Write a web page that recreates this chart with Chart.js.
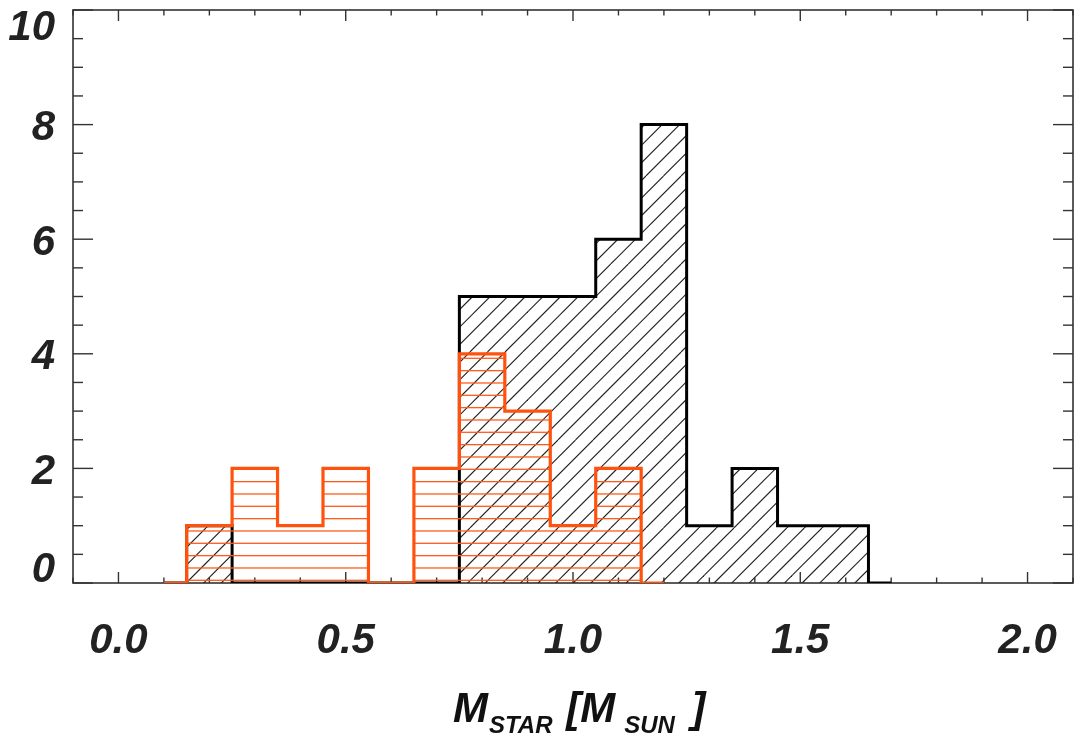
<!DOCTYPE html>
<html><head><meta charset="utf-8">
<script src="https://cdn.jsdelivr.net/npm/chart.js@4.4.1/dist/chart.umd.min.js"></script>
<style>html,body{margin:0;padding:0;background:#fff}#wrap{width:1078px;height:743px;position:relative}</style>
</head><body><div id="wrap"><canvas id="c"></canvas></div>
<script>
// ---- data ----
const blackMass   = [0.1,0.2,0.3,0.4,0.5,0.6,0.7,0.8,0.9,1.0,1.1,1.2,1.3,1.4,1.5,1.6,1.7];
const blackCounts = [0,  1,  0,  0,  0,  0,  0,  5,  5,  5,  6,  8,  1,  2,  1,  1,  0];
const orangeMass   = [0.1,0.2,0.3,0.4,0.5,0.6,0.7,0.8,0.9,1.0,1.1,1.2];
const orangeCounts = [0,  1,  2,  1,  2,  0,  2,  4,  3,  1,  2,  0];
const xTickValues = [0.0,0.5,1.0,1.5,2.0];
const xMinorValues = [-0.1,0.1,0.2,0.3,0.4,0.6,0.7,0.8,0.9,1.1,1.2,1.3,1.4,1.6,1.7,1.8,1.9,2.1];
const yTickValues = [0,2,4,6,8,10];
const yMinorValues = [0.5,1,1.5,2.5,3,3.5,4.5,5,5.5,6.5,7,7.5,8.5,9,9.5];
const xTitleMain = ['M', ' [M', ' ]'];
const xTitleSub = ['STAR', 'SUN'];

const FAM = "'Liberation Sans', Arial, Helvetica, sans-serif";
const canvas = document.getElementById('c');
const mainCtx = canvas.getContext('2d');

function diagPattern(){
  const s = 88, c = document.createElement('canvas'); c.width = s; c.height = s;
  const g = c.getContext('2d'); g.strokeStyle = '#222'; g.lineWidth = 1.1;
  for (let o = 12.3 - 17.6*10; o <= s; o += 17.6) {
    g.beginPath(); g.moveTo(o, s); g.lineTo(o + s, 0); g.stroke();
  }
  return mainCtx.createPattern(c, 'repeat');
}
function horizPattern(){
  const w = 8, h = 37, c = document.createElement('canvas'); c.width = w; c.height = h;
  const g = c.getContext('2d'); g.strokeStyle = '#ff5a1a'; g.lineWidth = 1.3;
  [0.65, 12.98, 25.3].forEach(y => { g.beginPath(); g.moveTo(0, y); g.lineTo(w, y); g.stroke(); });
  return mainCtx.createPattern(c, 'repeat');
}

const frameTicks = {
  id: 'frameTicks',
  beforeDatasetsDraw(chart){
    const {ctx, chartArea: a, scales: {x, y}} = chart;
    ctx.save();
    ctx.strokeStyle = '#333'; ctx.lineWidth = 1.6;
    ctx.strokeRect(a.left, a.top, a.right - a.left, a.bottom - a.top);
    ctx.lineWidth = 1.4;
    const seg = (x1,y1,x2,y2) => { ctx.beginPath(); ctx.moveTo(x1,y1); ctx.lineTo(x2,y2); ctx.stroke(); };
    xTickValues.forEach(v => { const p = x.getPixelForValue(v); seg(p, a.bottom, p, a.bottom - 11); seg(p, a.top, p, a.top + 11); });
    xMinorValues.forEach(v => { const p = x.getPixelForValue(v); seg(p, a.bottom, p, a.bottom - 5.5); seg(p, a.top, p, a.top + 5.5); });
    yTickValues.forEach(v => { const p = y.getPixelForValue(v); seg(a.left, p, a.left + 20, p); seg(a.right, p, a.right - 20, p); });
    yMinorValues.forEach(v => { const p = y.getPixelForValue(v); seg(a.left, p, a.left + 10, p); seg(a.right, p, a.right - 10, p); });
    ctx.restore();
  },
  afterDraw(chart){
    const {ctx} = chart;
    ctx.save();
    ctx.fillStyle = '#111'; ctx.textBaseline = 'alphabetic'; ctx.textAlign = 'left';
    const big = `italic bold 42px ${FAM}`, small = `italic bold 24px ${FAM}`;
    let xx = 453; const base = 722, subBase = 733;
    ctx.font = big; ctx.fillText(xTitleMain[0], xx, base); xx += ctx.measureText(xTitleMain[0]).width + 1;
    ctx.font = small; ctx.fillText(xTitleSub[0], xx, subBase); xx += ctx.measureText(xTitleSub[0]).width + 2;
    ctx.font = big; ctx.fillText(xTitleMain[1], xx, base); xx += ctx.measureText(xTitleMain[1]).width + 9;
    ctx.font = small; ctx.fillText(xTitleSub[1], xx, subBase); xx += ctx.measureText(xTitleSub[1]).width + 5;
    ctx.font = big; ctx.fillText(xTitleMain[2], xx, base);
    ctx.restore();
  }
};

const tickFont = { family: FAM, size: 42, weight: 'bold', style: 'italic', lineHeight: 1.2 };
const noPad = s => { s.paddingTop = 0; s.paddingBottom = 0; s.paddingLeft = 0; s.paddingRight = 0; };

new Chart(canvas, {
  type: 'line',
  data: {
    datasets: [
      { label: 'orange', data: orangeMass.map((m,i) => ({x: m, y: orangeCounts[i]})),
        stepped: 'middle', borderColor: '#ff520f', borderWidth: 3.2, pointRadius: 0,
        fill: 'origin', backgroundColor: horizPattern() },
      { label: 'black', data: blackMass.map((m,i) => ({x: m, y: blackCounts[i]})),
        stepped: 'middle', borderColor: '#000', borderWidth: 3, pointRadius: 0,
        fill: 'origin', backgroundColor: diagPattern() }
    ]
  },
  options: {
    responsive: true, maintainAspectRatio: false, animation: false,
    layout: { padding: { top: 10, right: 5, left: 0, bottom: 0 } },
    plugins: { legend: { display: false }, tooltip: { enabled: false } },
    scales: {
      x: {
        type: 'linear', min: -0.1, max: 2.1,
        afterBuildTicks: s => { s.ticks = xTickValues.map(v => ({value: v})); },
        afterFit: s => { s.height = 160; noPad(s); },
        grid: { display: false, drawTicks: false }, border: { display: false },
        ticks: { font: tickFont, color: '#222', padding: 33, maxRotation: 0, autoSkip: false,
                 callback: v => Number(v).toFixed(1) }
      },
      y: {
        type: 'linear', min: 0, max: 10,
        afterBuildTicks: s => { s.ticks = yTickValues.map(v => ({value: v})); },
        afterFit: s => { s.width = 73; noPad(s); },
        grid: { display: false, drawTicks: false }, border: { display: false },
        ticks: {
          color: '#222', padding: 18, labelOffset: 4, autoSkip: false,
          font: c => {
            const v = c.tick ? c.tick.value : null;
            return Object.assign({}, tickFont, { lineHeight: v === 10 ? 0.69 : v === 0 ? 0.81 : 1.2 });
          },
          callback: v => v === 10 ? ['', '10'] : v === 0 ? ['0', ''] : String(v)
        }
      }
    }
  },
  plugins: [frameTicks]
});
</script></body></html>
